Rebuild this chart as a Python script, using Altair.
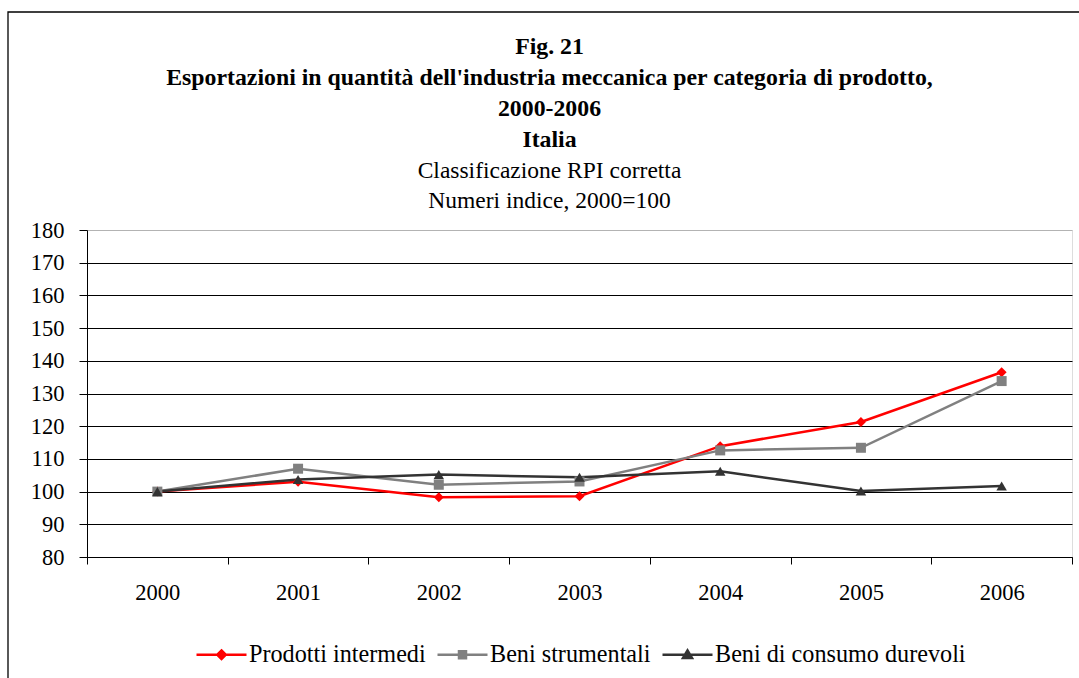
import altair as alt
import pandas as pd

years = ["2000", "2001", "2002", "2003", "2004", "2005", "2006"]
series_names = ["Prodotti intermedi", "Beni strumentali", "Beni di consumo durevoli"]
prodotti_intermedi = [100, 103.0, 98.3, 98.6, 113.9, 121.3, 136.5]
beni_strumentali = [100, 107.0, 102.1, 103.1, 112.6, 113.4, 133.8]
beni_consumo = [100, 103.7, 105.2, 104.4, 106.2, 100.2, 101.7]
colors = ["#ff0000", "#808080", "#333333"]
shapes = ["diamond", "square", "triangle-up"]
marker_sizes = [100, 100, 110]
legend_shapes = [
    "M-1,0H1M0,-0.17L0.17,0L0,0.17L-0.17,0Z",
    "M-1,0H1M-0.14,-0.14H0.14V0.14H-0.14Z",
    "M-1,0H1M0,-0.17L0.18,0.13L-0.18,0.13Z",
]
y_ticks = [80, 90, 100, 110, 120, 130, 140, 150, 160, 170, 180]

rows = []
for name, vals in zip(series_names, [prodotti_intermedi, beni_strumentali, beni_consumo]):
    for yr, v in zip(years, vals):
        rows.append({"anno": yr, "valore": v, "serie": name, "legenda": name})
df = pd.DataFrame(rows)

FONT = "Liberation Serif"

x_enc = alt.X(
    "anno:O",
    sort=years,
    bandPosition=0.5,
    scale=alt.Scale(type="band", domain=years, paddingInner=0, paddingOuter=0),
    axis=alt.Axis(
        title=None,
        tickBand="extent",
        tickSize=7,
        tickColor="black",
        domainColor="black",
        labelAngle=0,
        labelFont=FONT,
        labelFontSize=22.5,
        labelColor="black",
        labelPadding=17,
        grid=False,
    ),
)
y_enc = alt.Y(
    "valore:Q",
    scale=alt.Scale(domain=[80, 180], nice=False, zero=False),
    axis=alt.Axis(
        title=None,
        values=y_ticks,
        tickSize=8,
        tickColor="black",
        domainColor="black",
        labelFont=FONT,
        labelFontSize=22.5,
        labelColor="black",
        labelPadding=15,
        grid=True,
        gridColor={"condition": {"test": "datum.value === 180", "value": "#b3b3b3"}, "value": "black"},
        gridWidth=1,
    ),
)

base = alt.Chart(df)

lines = base.mark_line(strokeWidth=2.5).encode(
    x=x_enc,
    y=y_enc,
    color=alt.Color("serie:N", scale=alt.Scale(domain=series_names, range=colors), legend=None),
    detail="serie:N",
)

point_layers = []
for name, shp, sz in zip(series_names, shapes, marker_sizes):
    point_layers.append(
        base.transform_filter(alt.datum.serie == name)
        .mark_point(filled=True, opacity=1, size=sz, shape=shp)
        .encode(
            x=x_enc,
            y=y_enc,
            color=alt.Color("serie:N", scale=alt.Scale(domain=series_names, range=colors), legend=None),
        )
    )

legend_props = dict(
    title=None,
    orient="none",
    direction="horizontal",
    legendX=108,
    legendY=398,
    symbolSize=2500,
    symbolStrokeWidth=2.5,
    symbolOpacity=1,
    labelFont=FONT,
    labelFontSize=24.2,
    labelColor="black",
    labelOffset=1,
    columnPadding=6,
    labelLimit=500,
)

# legend-only layer: keeps no rows, its entries come from the explicit scale domain
legend_layer = base.transform_filter("false").mark_point(strokeWidth=2.5, filled=True).encode(
    x=x_enc,
    y=y_enc,
    fill=alt.Fill("legenda:N", scale=alt.Scale(domain=series_names, range=colors), legend=alt.Legend(**legend_props)),
    stroke=alt.Stroke("legenda:N", scale=alt.Scale(domain=series_names, range=colors), legend=alt.Legend(**legend_props)),
    shape=alt.Shape("legenda:N", scale=alt.Scale(domain=series_names, range=legend_shapes), legend=alt.Legend(**legend_props)),
)

frame = alt.Chart(alt.Data(values=[{}])).mark_rect(
    fill="white", fillOpacity=0, stroke="black", strokeWidth=1.3, clip=False
).encode(
    x=alt.value(-79), x2=alt.value(1000), y=alt.value(-218), y2=alt.value(460)
)

chart = alt.layer(frame, lines, *point_layers, legend_layer).resolve_scale(
    color="independent", fill="independent", stroke="independent", shape="independent"
).resolve_legend(
    color="independent", fill="independent", stroke="independent", shape="independent"
).properties(
    width=985,
    height=327,
    autosize=alt.AutoSizeParams(type="none"),
    padding={"left": 87, "top": 230, "right": 7, "bottom": 121},
    title=alt.Title(
        text=[
            "Fig. 21",
            "Esportazioni in quantità dell'industria meccanica per categoria di prodotto,",
            "2000-2006",
            "Italia",
        ],
        subtitle=["Classificazione RPI corretta", "Numeri indice, 2000=100"],
        font=FONT,
        fontSize=23.8,
        fontWeight="bold",
        color="black",
        subtitleFont=FONT,
        subtitleFontSize=23.5,
        subtitleColor="black",
        lineHeight=31,
        subtitleLineHeight=30,
        subtitlePadding=7,
        anchor="middle",
        frame="group",
        dx=-30,
        offset=-201,
    ),
).configure_view(strokeWidth=0).configure(background="white")

chart.save("out.html", embed_options={"renderer": "svg", "actions": False})
